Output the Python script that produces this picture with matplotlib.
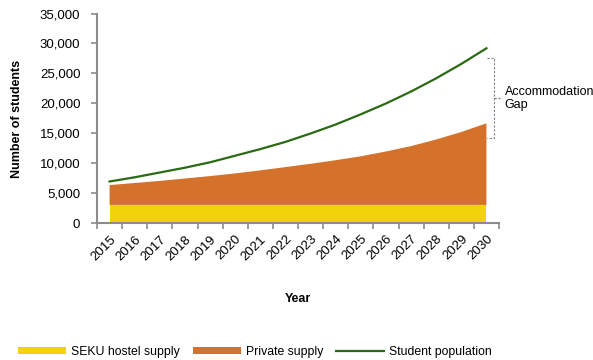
import numpy as np
import matplotlib
matplotlib.use("Agg")
import matplotlib.pyplot as plt

plt.rcParams['font.family'] = ['Liberation Sans', 'DejaVu Sans']

# Datos
years = [str(y) for y in range(2015, 2031)]
seku_hostel = [3100] * 16
private_supply = [3300, 3650, 4000, 4400, 4800, 5250, 5750, 6300, 6850, 7450,
                  8100, 8900, 9800, 10900, 12150, 13600]
student_population = [7000, 7700, 8500, 9300, 10200, 11300, 12400, 13600, 15000,
                      16500, 18200, 20000, 22000, 24200, 26600, 29200]

# Límites de la llave "Accommodation Gap"
gap_top = 27500
gap_bottom = 14200

c_yellow = '#F2D20A'
c_orange = '#D4712A'
c_green = '#2B6A14'
c_axis = '#8C8C8C'

x = np.arange(len(years))

fig = plt.figure(figsize=(5.93, 3.6), dpi=100)
ax = fig.add_axes([0.1636, 0.3792, 0.6779, 0.5833])

ax.stackplot(x, seku_hostel, private_supply, colors=[c_yellow, c_orange],
             labels=['SEKU hostel supply', 'Private supply'], linewidth=0)
ax.plot(x, student_population, color=c_green, lw=1.6, label='Student population')

ax.set_xlim(-0.5, len(years) - 0.5)
ax.set_ylim(0, 35000)
ax.set_yticks(range(0, 35001, 5000))
ax.set_yticklabels([f'{v:,}' for v in range(0, 35001, 5000)], fontsize=9.5)

# ticks entre categorías, etiquetas en el centro
ax.set_xticks(np.arange(-0.5, len(years), 1.0))
ax.set_xticklabels([])
ax.set_xticks(x, minor=True)
ax.set_xticklabels(years, minor=True, rotation=45, ha='right', va='top',
                   rotation_mode='anchor', fontsize=9.5)
ax.tick_params(axis='x', which='minor', length=0, pad=7)
ax.tick_params(axis='both', which='major', direction='out', length=4,
               width=1.2, color=c_axis)
ax.tick_params(axis='y', pad=8)

for s in ['top', 'right']:
    ax.spines[s].set_visible(False)
for s in ['left', 'bottom']:
    ax.spines[s].set_color(c_axis)
    ax.spines[s].set_linewidth(1.5)

ax.set_ylabel('Number of students', fontsize=9, fontweight='bold', labelpad=12)
ax.set_xlabel('Year', fontsize=9, fontweight='bold', labelpad=22)

# Llave discontinua
xb = len(years) - 1 + 0.3
gap_mid = (gap_top + gap_bottom) / 2
ax.plot([xb - 0.28, xb, xb, xb - 0.28], [gap_top, gap_top, gap_bottom, gap_bottom],
        color='#7F7F7F', lw=0.8, ls=(0, (2, 1.5)), clip_on=False)
ax.plot([xb, xb + 0.32], [gap_mid, gap_mid], color='#7F7F7F', lw=0.8,
        ls=(0, (2, 1.5)), clip_on=False)
ax.text(xb + 0.42, gap_mid, 'Accommodation\nGap', fontsize=9, ha='left',
        va='center', clip_on=False, linespacing=1.1)

leg = fig.legend(loc='center', bbox_to_anchor=(0.43, 0.023), ncol=3, frameon=False,
                 fontsize=8.8, handlelength=3.9, handleheight=0.55,
                 handletextpad=0.4, columnspacing=1.1)

fig.savefig('out.png', dpi=100)
